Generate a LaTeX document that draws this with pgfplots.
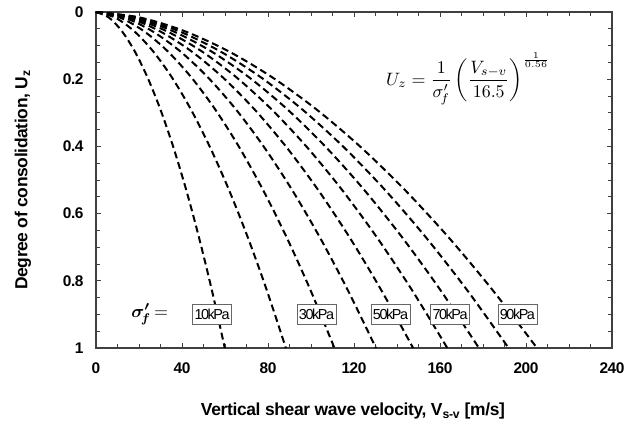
\documentclass[border=0pt]{standalone}
\usepackage{graphicx}
\usepackage{pgfplots}
\pgfplotsset{compat=1.18}
\usepackage{amsmath}
\usepackage{fontspec}
\setmainfont{Liberation Sans}
\pgfplotstableread{
x1 x2 x3 x4 x5 x6 x7 x8 x9 u
0 0 0 0 0 0 0 0 0 0
5.99 8.83 11.09 13.02 14.75 16.34 17.81 19.19 20.51 0.0164
11.98 17.66 22.18 26.04 29.5 32.68 35.62 38.38 41.02 0.0565
17.97 26.49 33.27 39.06 44.25 49.02 53.43 57.57 61.53 0.1164
23.96 35.32 44.36 52.08 59 65.36 71.24 76.76 82.04 0.1947
29.95 44.15 55.45 65.1 73.75 81.7 89.05 95.95 102.55 0.2900
35.94 52.98 66.54 78.12 88.5 98.04 106.86 115.14 123.06 0.4016
41.93 61.81 77.63 91.14 103.25 114.38 124.67 134.33 143.57 0.5289
47.92 70.64 88.72 104.16 118 130.72 142.48 153.52 164.08 0.6713
53.91 79.47 99.81 117.18 132.75 147.06 160.29 172.71 184.59 0.8285
59.9 88.3 110.9 130.2 147.5 163.4 178.1 191.9 205.1 1.0
}\curves
\begin{document}
\begin{tikzpicture}[
  kpabox/.style={draw=black!60, line width=0.8bp, fill=white, inner sep=1bp, minimum height=20bp, minimum width=39bp, font=\fontsize{14.5}{15}\selectfont\addfontfeatures{LetterSpace=-10}},
]
\begin{axis}[
  at={(0,0)}, anchor=south west,
  scale only axis, width=516bp, height=336bp,
  xmin=0, xmax=240, ymin=0, ymax=1, y dir=reverse,
  xtick={0,40,...,240}, ytick={0,0.2,...,1},
  minor x tick num=3, minor y tick num=3,
  tick align=inside, major tick length=5bp, minor tick length=4bp,
  axis line style={draw=black!75, line width=1.3bp},
  every tick/.style={draw=black!75, line width=0.9bp},
  /pgf/number format/assume math mode=true,
  ticklabel style={font=\bfseries\fontsize{15.5}{17}\selectfont\addfontfeatures{LetterSpace=-3}},
  xticklabel style={yshift=-11bp},
  yticklabel style={xshift=-9bp},
  xlabel={Vertical shear wave velocity, V\textsubscript{s-v} [m/s]},
  ylabel={Degree of consolidation, U\textsubscript{z}},
  every axis x label/.style={at={(axis description cs:0.498,-0.1875)}, anchor=center, font=\bfseries\fontsize{17.5}{19}\selectfont\addfontfeatures{LetterSpace=-2}},
  every axis y label/.style={at={(axis description cs:-0.1415,0.5)}, rotate=90, anchor=center, yshift=0bp, font=\bfseries\fontsize{17.5}{19}\selectfont\addfontfeatures{LetterSpace=-2}},
  clip=false,
]
\pgfplotsinvokeforeach{1,...,9}{
  \addplot[black, line width=2bp, dash pattern=on 7bp off 4bp, smooth] table[x=x#1, y=u] {\curves};
}
\node[anchor=center, transform shape, scale=1.8] at (axis cs:25,0.9) {$\boldsymbol{\sigma'_{\!f}}\,\mathbf{=}$};
\node[kpabox] at (axis cs:54,0.9) {10kPa};
\node[kpabox] at (axis cs:102.6,0.9) {30kPa};
\node[kpabox] at (axis cs:137,0.9) {50kPa};
\node[kpabox] at (axis cs:164.7,0.9) {70kPa};
\node[kpabox] at (axis cs:196,0.9) {90kPa};
\node[anchor=west, transform shape, scale=1.8] at (axis cs:132,0.2) {$U_z=\dfrac{1}{\sigma'_{\!f}}\left(\dfrac{V_{s-v}}{16.5}\right)^{\frac{1}{0.56}}$};
\end{axis}
\path[use as bounding box] (-96bp,-82bp) rectangle (543bp,348bp);
\end{tikzpicture}
\end{document}
